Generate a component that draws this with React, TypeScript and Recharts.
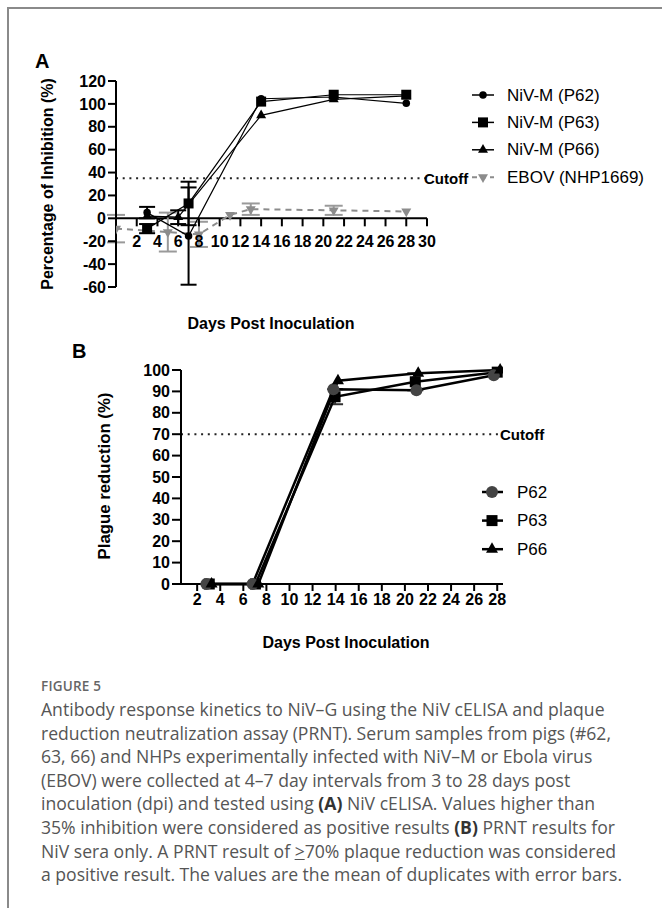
import React from 'react';
import { LineChart, Line, XAxis, YAxis, ErrorBar, ReferenceLine, Legend } from 'recharts';

const FONT = '"Liberation Sans", Arial, Helvetica, sans-serif';
const CAPTION_FONT = '"Open Sans", "Noto Sans", sans-serif';

// ---- Panel A: NiV cELISA (% inhibition) ----
const ticksAX = [2, 4, 6, 8, 10, 12, 14, 16, 18, 20, 22, 24, 26, 28, 30];
const ticksAY = [-60, -40, -20, 0, 20, 40, 60, 80, 100, 120];
const cutoffA = 35;

const p62A = [
  { day: 3, value: 5, err: 5 },
  { day: 7, value: -15.5, err: 42.5 },
  { day: 14, value: 104.5 },
  { day: 21, value: 106 },
  { day: 28, value: 100.5 },
];
const p63A = [
  { day: 3, value: -9, err: 4 },
  { day: 7, value: 13, err: 19 },
  { day: 14, value: 102 },
  { day: 21, value: 108 },
  { day: 28, value: 108 },
];
const p66A = [
  { day: 3, value: 2 },
  { day: 6, value: 1, err: 6 },
  { day: 14, value: 90 },
  { day: 21, value: 104 },
  { day: 28, value: 107 },
];
const ebovA = [
  { day: 0, value: -9, err: 12 },
  { day: 5, value: -12, err: 17 },
  { day: 8, value: -14, err: 11 },
  { day: 11, value: 3 },
  { day: 13, value: 8, err: 5 },
  { day: 21, value: 7, err: 4 },
  { day: 28, value: 6 },
];

// ---- Panel B: PRNT (% plaque reduction) ----
const ticksBX = [2, 4, 6, 8, 10, 12, 14, 16, 18, 20, 22, 24, 26, 28];
const ticksBY = [0, 10, 20, 30, 40, 50, 60, 70, 80, 90, 100];
const cutoffB = 70;

const p62B = [
  { day: 2.8, value: 0 },
  { day: 6.8, value: 0 },
  { day: 13.8, value: 91 },
  { day: 21, value: 90.5 },
  { day: 27.7, value: 97.5 },
];
const p63B = [
  { day: 3.05, value: 0 },
  { day: 7.05, value: 0 },
  { day: 13.95, value: 87.5, err: 3.5 },
  { day: 20.9, value: 94.5, err: 4 },
  { day: 28, value: 99 },
];
const p66B = [
  { day: 3.25, value: 0 },
  { day: 7.3, value: 0 },
  { day: 14.2, value: 95 },
  { day: 21.15, value: 98.5 },
  { day: 28.25, value: 100 },
];

type Shape = 'circle' | 'square' | 'triangle' | 'triangleDown';

const Marker = ({ shape, cx, cy, size, fill }: { shape: Shape; cx: number; cy: number; size: number; fill: string }) => {
  if (shape === 'circle') return <circle cx={cx} cy={cy} r={size / 2} fill={fill} />;
  if (shape === 'square') return <rect x={cx - size / 2} y={cy - size / 2} width={size} height={size} fill={fill} />;
  const h = size * 0.866;
  if (shape === 'triangle') {
    return <polygon points={`${cx},${cy - (h * 2) / 3} ${cx - size / 2},${cy + h / 3} ${cx + size / 2},${cy + h / 3}`} fill={fill} />;
  }
  return <polygon points={`${cx},${cy + (h * 2) / 3} ${cx - size / 2},${cy - h / 3} ${cx + size / 2},${cy - h / 3}`} fill={fill} />;
};

const dotOf = (shape: Shape, size: number, fill: string) => (props: any) => {
  const { cx, cy, index } = props;
  if (cx == null || cy == null) return <g key={index} />;
  return <Marker key={index} shape={shape} cx={cx} cy={cy} size={size} fill={fill} />;
};

// chart A geometry
const A_W = 662;
const A_H = 345;
const A_TOP = 81;
const A_XAXIS_H = 48;
const A_BOTTOM_MARGIN = 10;
const A_PLOT_H = A_H - A_TOP - A_XAXIS_H - A_BOTTOM_MARGIN;
const A_ZERO_SHIFT = (A_PLOT_H * (0 - ticksAY[0])) / (ticksAY[ticksAY.length - 1] - ticksAY[0]);

const TICK_FONT_SIZE = 16;

// x ticks of panel A sit on the zero line, not at the bottom of the plot
const TickA = (props: any) => {
  const { x, y, payload } = props;
  const y0 = y - A_ZERO_SHIFT;
  return (
    <g>
      <line x1={x} x2={x} y1={y0} y2={y0 + 8} stroke="#000" strokeWidth={2} />
      <text x={x} y={y0 + 23} textAnchor="middle" dominantBaseline="central" fontFamily={FONT} fontWeight="bold" fontSize={TICK_FONT_SIZE} fill="#000">
        {payload.value}
      </text>
    </g>
  );
};

const legendA = [
  { name: 'NiV-M (P62)', shape: 'circle' as Shape, size: 7.5, color: '#000', dash: undefined },
  { name: 'NiV-M (P63)', shape: 'square' as Shape, size: 10, color: '#000', dash: undefined },
  { name: 'NiV-M (P66)', shape: 'triangle' as Shape, size: 10, color: '#000', dash: undefined },
  { name: 'EBOV (NHP1669)', shape: 'triangleDown' as Shape, size: 10, color: '#8c8c8c', dash: '5 4' },
];

const legendB = [
  { name: 'P62', shape: 'circle' as Shape, size: 12, color: '#444' },
  { name: 'P63', shape: 'square' as Shape, size: 11, color: '#000' },
  { name: 'P66', shape: 'triangle' as Shape, size: 12, color: '#000' },
];

const LegendContentA = () => (
  <svg width={195} height={115}>
    {legendA.map((item, i) => {
      const cy = 14 + i * 27.4;
      return (
        <g key={item.name}>
          <line x1={4} x2={26} y1={cy} y2={cy} stroke={item.color} strokeWidth={item.dash ? 2 : 1.5} strokeDasharray={item.dash} />
          <Marker shape={item.shape} cx={15} cy={cy} size={item.size} fill={item.color} />
          <text x={39} y={cy} dominantBaseline="central" fontFamily={FONT} fontSize={17} fill="#000">
            {item.name}
          </text>
        </g>
      );
    })}
  </svg>
);

const LegendContentB = () => (
  <svg width={120} height={90}>
    {legendB.map((item, i) => {
      const cy = 14 + i * 28.6;
      return (
        <g key={item.name}>
          <line x1={4} x2={25} y1={cy} y2={cy} stroke="#000" strokeWidth={2.5} />
          <Marker shape={item.shape} cx={14} cy={cy} size={item.size} fill={item.color} />
          <text x={39} y={cy} dominantBaseline="central" fontFamily={FONT} fontSize={17} fill="#000">
            {item.name}
          </text>
        </g>
      );
    })}
  </svg>
);

const tickStyle = { fontFamily: FONT, fontWeight: 'bold' as const, fontSize: TICK_FONT_SIZE, fill: '#000' };

const abs = (left: number, top: number): React.CSSProperties => ({ position: 'absolute', left, top });

const Title = ({ text, cx, cy, rotate, size = 16 }: { text: string; cx: number; cy: number; rotate?: boolean; size?: number }) => (
  <div
    style={{
      position: 'absolute',
      left: cx,
      top: cy,
      transform: `translate(-50%, -50%)${rotate ? ' rotate(-90deg)' : ''}`,
      whiteSpace: 'nowrap',
      fontFamily: FONT,
      fontWeight: 'bold',
      fontSize: size,
      color: '#000',
    }}
  >
    {text}
  </div>
);

const b = (s: string) => <span style={{ fontWeight: 700, color: '#333' }}>{s}</span>;

const captionLines: React.ReactNode[] = [
  <>Antibody response kinetics to NiV–G using the NiV cELISA and plaque</>,
  <>reduction neutralization assay (PRNT). Serum samples from pigs (#62,</>,
  <>63, 66) and NHPs experimentally infected with NiV–M or Ebola virus</>,
  <>(EBOV) were collected at 4–7 day intervals from 3 to 28 days post</>,
  <>inoculation (dpi) and tested using {b('(A)')} NiV cELISA. Values higher than</>,
  <>35% inhibition were considered as positive results {b('(B)')} PRNT results for</>,
  <>NiV sera only. A PRNT result of <span style={{ textDecoration: 'underline' }}>&gt;</span>70% plaque reduction was considered</>,
  <>a positive result. The values are the mean of duplicates with error bars.</>,
];

export default function App() {
  return (
    <div style={{ position: 'absolute', left: 0, top: 0, width: 662, height: 908, overflow: 'hidden', background: '#fff' }}>
      {/* figure frame */}
      <div style={{ position: 'absolute', left: 7, top: 7, width: 700, height: 950, borderLeft: '2px solid #8a8a8a', borderTop: '2px solid #8a8a8a' }} />

      <div style={{ ...abs(35, 50), fontFamily: FONT, fontWeight: 'bold', fontSize: 20 }}>A</div>
      <div style={{ ...abs(72, 340), fontFamily: FONT, fontWeight: 'bold', fontSize: 20 }}>B</div>

      {/* Panel A */}
      <div style={abs(0, 0)}>
        <LineChart width={A_W} height={A_H} margin={{ top: A_TOP, right: 235, bottom: A_BOTTOM_MARGIN, left: 60 }}>
          <XAxis
            dataKey="day"
            type="number"
            domain={[0, 30]}
            ticks={ticksAX}
            allowDataOverflow
            height={A_XAXIS_H}
            axisLine={false}
            tickLine={false}
            tickSize={0}
            tickMargin={0}
            tick={<TickA />}
            interval={0}
          />
          <YAxis
            type="number"
            domain={[-60, 120]}
            ticks={ticksAY}
            width={56}
            interval={0}
            axisLine={{ stroke: '#000', strokeWidth: 2 }}
            tickLine={{ stroke: '#000', strokeWidth: 2 }}
            tickSize={8}
            tickMargin={2}
            tick={tickStyle}
          />
          <ReferenceLine y={0} stroke="#000" strokeWidth={2} />
          <ReferenceLine
            y={cutoffA}
            stroke="#222"
            strokeWidth={2}
            strokeDasharray="2 4.7"
            label={{ value: 'Cutoff', position: 'right', offset: -3, fill: '#000', fontFamily: FONT, fontWeight: 'bold', fontSize: 15 }}
          />
          <Line data={ebovA} dataKey="value" type="linear" stroke="#8c8c8c" strokeWidth={2} strokeDasharray="6 5" dot={dotOf('triangleDown', 10, '#8c8c8c')} isAnimationActive={false}>
            <ErrorBar dataKey="err" width={9} stroke="#9a9a9a" strokeWidth={2} direction="y" />
          </Line>
          <Line data={p66A} dataKey="value" type="linear" stroke="#000" strokeWidth={1.2} dot={dotOf('triangle', 10, '#000')} isAnimationActive={false}>
            <ErrorBar dataKey="err" width={8} stroke="#000" strokeWidth={2} direction="y" />
          </Line>
          <Line data={p62A} dataKey="value" type="linear" stroke="#000" strokeWidth={1.2} dot={dotOf('circle', 7.5, '#000')} isAnimationActive={false}>
            <ErrorBar dataKey="err" width={8} stroke="#000" strokeWidth={2} direction="y" />
          </Line>
          <Line data={p63A} dataKey="value" type="linear" stroke="#000" strokeWidth={1.2} dot={dotOf('square', 10, '#000')} isAnimationActive={false}>
            <ErrorBar dataKey="err" width={8} stroke="#000" strokeWidth={2} direction="y" />
          </Line>
          <Legend
            layout="vertical"
            align="center"
            verticalAlign="middle"
            content={<LegendContentA />}
            wrapperStyle={{ left: 468, top: 81, width: 195, height: 115 }}
          />
        </LineChart>
      </div>
      <Title text="Percentage of Inhibition (%)" cx={48} cy={184} rotate size={16} />
      <Title text="Days Post Inoculation" cx={271} cy={324} />

      {/* Panel B */}
      <div style={abs(0, 340)}>
        <LineChart width={662} height={320} margin={{ top: 30, right: 159, bottom: 46, left: 130 }}>
          <XAxis
            dataKey="day"
            type="number"
            domain={[0.6, 28.5]}
            ticks={ticksBX}
            allowDataOverflow
            height={30}
            interval={0}
            axisLine={{ stroke: '#000', strokeWidth: 2 }}
            tickLine={{ stroke: '#000', strokeWidth: 2 }}
            tickSize={7}
            tickMargin={3}
            tick={tickStyle}
          />
          <YAxis
            type="number"
            domain={[0, 100]}
            ticks={ticksBY}
            width={51}
            interval={0}
            axisLine={{ stroke: '#000', strokeWidth: 2 }}
            tickLine={{ stroke: '#000', strokeWidth: 2 }}
            tickSize={9}
            tickMargin={2}
            tick={tickStyle}
          />
          <ReferenceLine
            y={cutoffB}
            stroke="#222"
            strokeWidth={2}
            strokeDasharray="2 4.7"
            label={{ value: 'Cutoff', position: 'right', offset: -3, fill: '#000', fontFamily: FONT, fontWeight: 'bold', fontSize: 15 }}
          />
          <Line data={p63B} dataKey="value" type="linear" stroke="#000" strokeWidth={2.5} dot={dotOf('square', 11, '#000')} isAnimationActive={false}>
            <ErrorBar dataKey="err" width={8} stroke="#333" strokeWidth={2} direction="y" />
          </Line>
          <Line data={p62B} dataKey="value" type="linear" stroke="#000" strokeWidth={2.5} dot={dotOf('circle', 12, '#444')} isAnimationActive={false} />
          <Line data={p66B} dataKey="value" type="linear" stroke="#000" strokeWidth={2.5} dot={dotOf('triangle', 12, '#000')} isAnimationActive={false} />
          <Legend
            layout="vertical"
            align="center"
            verticalAlign="middle"
            content={<LegendContentB />}
            wrapperStyle={{ left: 478, top: 138, width: 120, height: 90 }}
          />
        </LineChart>
      </div>
      <Title text="Plague reduction (%)" cx={105} cy={476} rotate size={16.8} />
      <Title text="Days Post Inoculation" cx={346} cy={643} />

      {/* Caption */}
      <div style={{ ...abs(41, 677), fontFamily: CAPTION_FONT, fontWeight: 600, fontSize: 13.5, color: '#666', letterSpacing: 0.2 }}>FIGURE 5</div>
      <div style={{ ...abs(41, 698), fontFamily: CAPTION_FONT, fontSize: 17.6, lineHeight: '23.6px', color: '#555' }}>
        {captionLines.map((line, i) => (
          <div key={i} style={{ whiteSpace: 'nowrap' }}>
            {line}
          </div>
        ))}
      </div>
    </div>
  );
}
